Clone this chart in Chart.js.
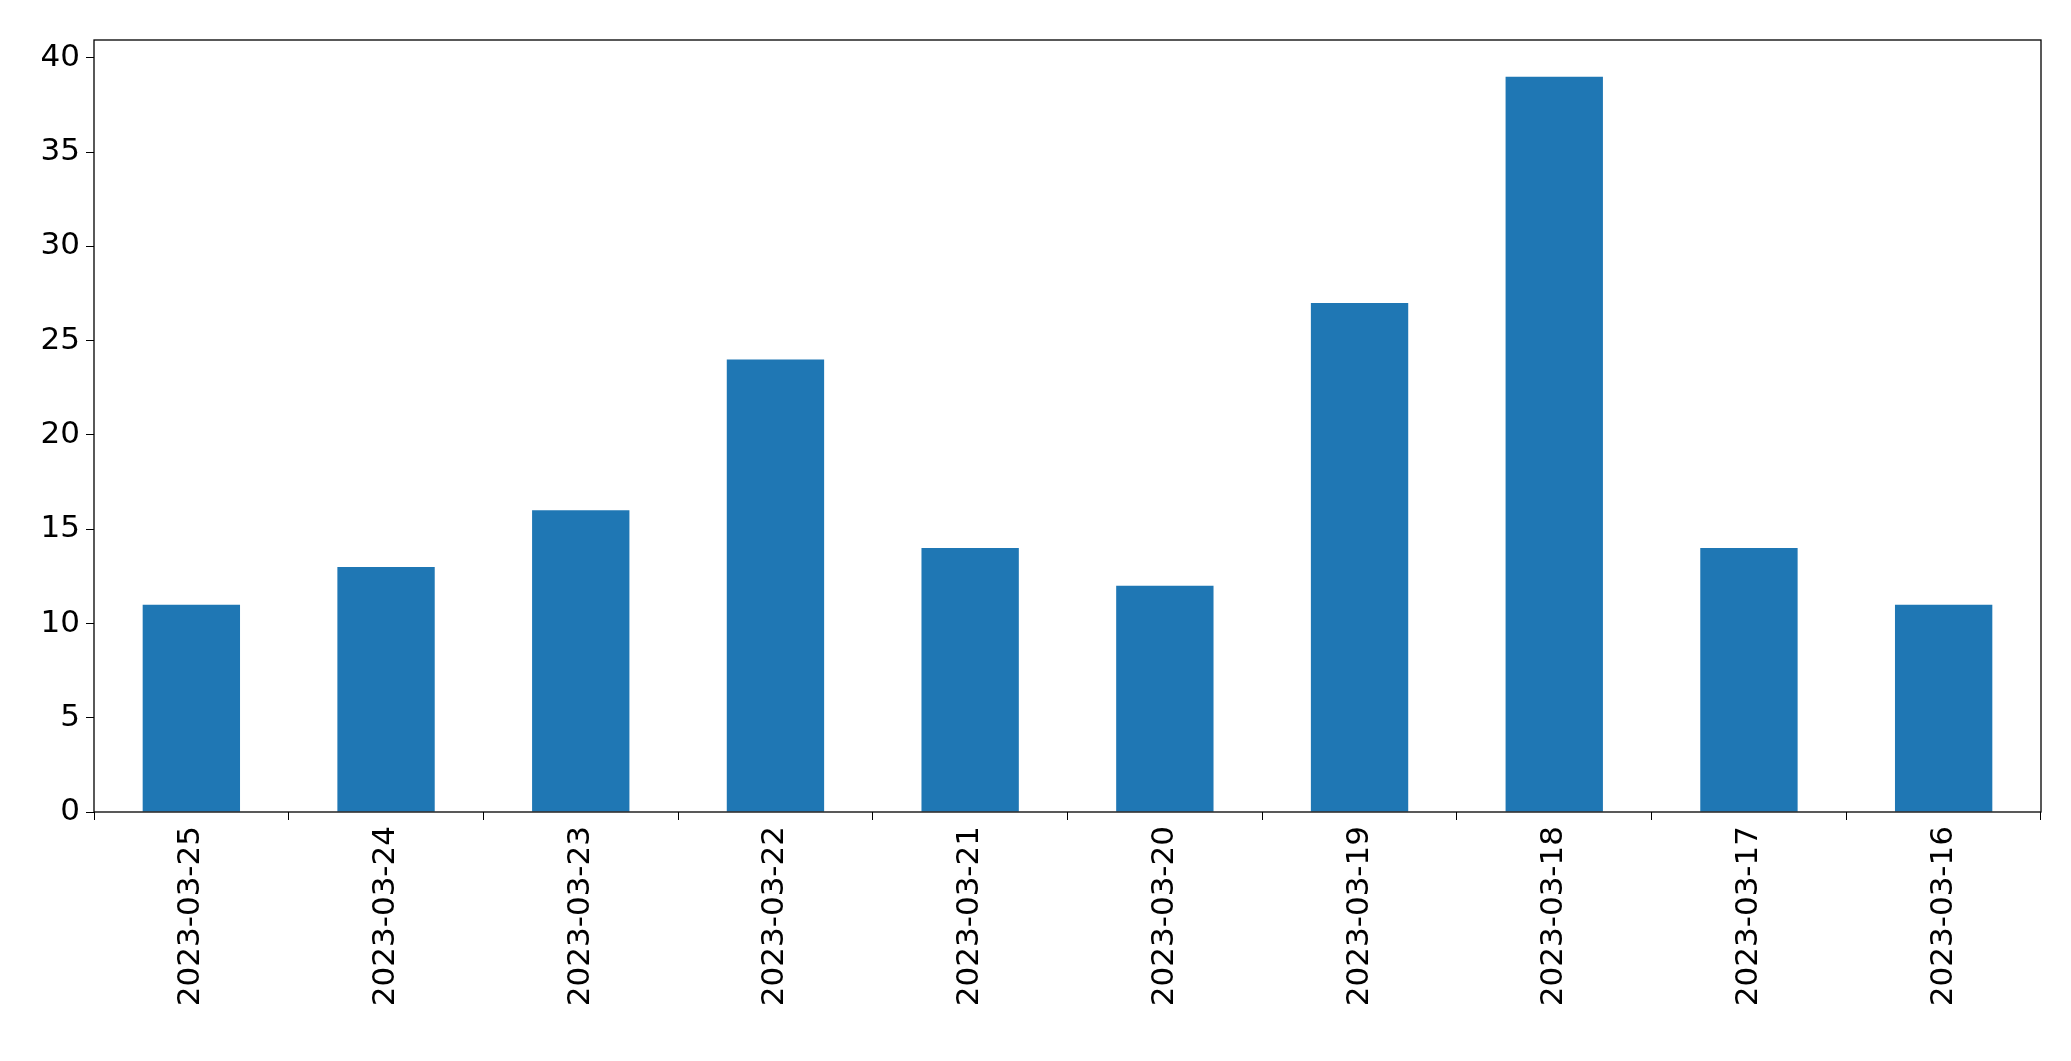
<!DOCTYPE html>
<html><head><meta charset="utf-8">
<script src="https://cdn.jsdelivr.net/npm/chart.js@4"></script>
<style>html,body{margin:0;padding:0;background:#fff}#w{width:2071px;height:1061px}</style>
</head><body><div id="w"><canvas id="c"></canvas></div>
<script>
const categories = ["2023-03-25","2023-03-24","2023-03-23","2023-03-22","2023-03-21","2023-03-20","2023-03-19","2023-03-18","2023-03-17","2023-03-16"];
const counts = [11,13,16,24,14,12,27,39,14,11];
const yTicks = [0,5,10,15,20,25,30,35,40];
const frame = {id:'frame',afterDraw(ch){const a=ch.chartArea,x=ch.ctx;x.save();x.strokeStyle='#000';x.lineWidth=1.3;x.strokeRect(a.left,a.top,a.right-a.left,a.bottom-a.top);x.restore();}};
new Chart(document.getElementById('c'),{
 type:'bar',
 data:{labels:categories,datasets:[{data:counts,backgroundColor:'#1f77b4',categoryPercentage:1,barPercentage:0.5}]},
 options:{responsive:true,maintainAspectRatio:false,animation:false,
  layout:{padding:{top:40,right:30,left:0,bottom:0}},
  plugins:{legend:{display:false},tooltip:{enabled:false}},
  scales:{
   x:{offset:true,grid:{display:true,drawOnChartArea:false,tickLength:8,color:'#000'},border:{display:false},
      ticks:{color:'#000',font:{family:'DejaVu Sans',size:31},maxRotation:90,minRotation:90,padding:6},
      afterFit(s){s.height=249;}},
   y:{min:0,max:40.95,afterBuildTicks(s){s.ticks=yTicks.map(v=>({value:v}));},
      grid:{display:true,drawOnChartArea:false,tickLength:8,color:'#000'},border:{display:false},
      ticks:{color:'#000',font:{family:'DejaVu Sans',size:31},padding:6},
      afterFit(s){s.width=94;}}
  }},
 plugins:[frame]
});
</script></body></html>
